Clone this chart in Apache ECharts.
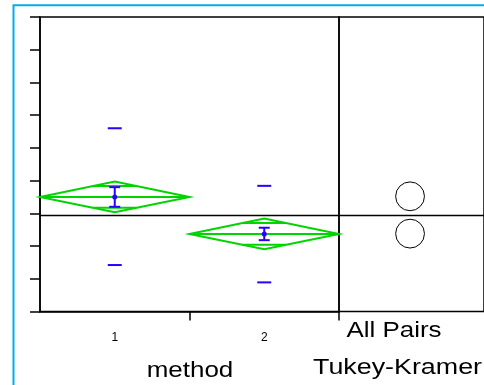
<!DOCTYPE html>
<html><head><meta charset="utf-8">
<script src="https://cdn.jsdelivr.net/npm/echarts@6/dist/echarts.min.js"></script>
<style>html,body{margin:0;padding:0;background:#fff}#c{width:484px;height:385px}</style>
</head><body><div id="c"></div>
<script>
// ---- data ----
const groups = ['1', '2'];
const groupX = [0.5, 1.5];
const means = [3.50, 2.37];
const ciHalf = [0.47, 0.47];
const sdUpper = [5.60, 3.84];
const sdLower = [1.42, 0.89];
const errUpper = [3.80, 2.56];
const errLower = [3.20, 2.18];
const grandMean = 2.93;
const circleY = [3.52, 2.38];
const circleR = [0.44, 0.44];
const circleX = 0.49;
const yMin = 0, yMax = 9, yStep = 1;
const xAxisTitle = 'method';
const panelTitle1 = 'All Pairs';
const panelTitle2 = 'Tukey-Kramer';

const GREEN = '#00D400';
const BLUE = '#2A00FF';
const FONT = 'Liberation Sans, Arial, sans-serif';

const chart = echarts.init(document.getElementById('c'), null, {renderer: 'canvas'});

const diamondData = groups.map((g, i) => [groupX[i], means[i], ciHalf[i]]);
const errData = groups.map((g, i) => [groupX[i], means[i], errLower[i], errUpper[i]]);
const sdData = groups.map((g, i) => [groupX[i], sdLower[i], sdUpper[i]]);
const circleData = groups.map((g, i) => [circleX, circleY[i], circleR[i]]);

const lineStyleBlack = {color: '#000', width: 1.5};

chart.setOption({
  animation: false,
  backgroundColor: '#fff',
  grid: [
    {left: 40, top: 17, width: 299, height: 294.5, show: true, borderColor: '#000', borderWidth: 1.5, containLabel: false},
    {left: 339, top: 17, width: 146, height: 294.5, show: true, borderColor: '#000', borderWidth: 1.5, containLabel: false}
  ],
  xAxis: [
    {type: 'value', gridIndex: 0, min: 0, max: 2, interval: 1,
     axisLine: {show: true, onZero: false, lineStyle: lineStyleBlack},
     axisTick: {show: true, length: 9, lineStyle: lineStyleBlack, customValues: [1, 2]},
     axisLabel: {show: true, customValues: groupX, margin: 20, fontSize: 12, color: '#000', fontFamily: FONT,
       formatter: v => { const i = groupX.indexOf(v); return i >= 0 ? groups[i] : ''; }},
     splitLine: {show: false}},
    {type: 'value', gridIndex: 1, min: 0, max: 1,
     axisLine: {show: false}, axisTick: {show: false}, axisLabel: {show: false}, splitLine: {show: false}}
  ],
  yAxis: [
    {type: 'value', gridIndex: 0, min: yMin, max: yMax, interval: yStep,
     axisLine: {show: true, onZero: false, lineStyle: lineStyleBlack},
     axisTick: {show: true, length: 10, lineStyle: lineStyleBlack},
     axisLabel: {show: false}, splitLine: {show: false}},
    {type: 'value', gridIndex: 1, min: yMin, max: yMax, interval: yStep,
     axisLine: {show: false}, axisTick: {show: false}, axisLabel: {show: false}, splitLine: {show: false}}
  ],
  series: [
    {type: 'line', xAxisIndex: 0, yAxisIndex: 0, data: [[0, grandMean], [2, grandMean]],
     symbol: 'none', lineStyle: {color: '#000', width: 1.5}, z: 3, silent: true},
    {type: 'line', xAxisIndex: 1, yAxisIndex: 1, data: [[0, grandMean], [1, grandMean]],
     symbol: 'none', lineStyle: {color: '#000', width: 1.5}, z: 3, silent: true},
    {type: 'custom', xAxisIndex: 0, yAxisIndex: 0, data: diamondData, z: 4,
     renderItem: (params, api) => {
       const x = api.value(0), m = api.value(1), c = api.value(2);
       const L = api.coord([x - 0.5, m]), R = api.coord([x + 0.5, m]);
       const T = api.coord([x, m + c]), B = api.coord([x, m - c]);
       const k = c * Math.SQRT1_2;
       const hw = 0.5 * (1 - Math.SQRT1_2);
       const o1a = api.coord([x - hw, m + k]), o1b = api.coord([x + hw, m + k]);
       const o2a = api.coord([x - hw, m - k]), o2b = api.coord([x + hw, m - k]);
       const st = {stroke: GREEN, lineWidth: 2, fill: null};
       return {type: 'group', children: [
         {type: 'polygon', shape: {points: [L, T, R, B]}, style: st},
         {type: 'line', shape: {x1: L[0], y1: L[1], x2: R[0], y2: R[1]}, style: st},
         {type: 'line', shape: {x1: o1a[0], y1: o1a[1], x2: o1b[0], y2: o1b[1]}, style: st},
         {type: 'line', shape: {x1: o2a[0], y1: o2a[1], x2: o2b[0], y2: o2b[1]}, style: st}
       ]};
     }},
    {type: 'custom', xAxisIndex: 0, yAxisIndex: 0, data: errData, z: 5,
     renderItem: (params, api) => {
       const x = api.value(0);
       const M = api.coord([x, api.value(1)]);
       const lo = api.coord([x, api.value(2)]), hi = api.coord([x, api.value(3)]);
       const cw = 5.5;
       const st = {stroke: BLUE, lineWidth: 2, fill: null};
       return {type: 'group', children: [
         {type: 'line', shape: {x1: lo[0], y1: lo[1], x2: hi[0], y2: hi[1]}, style: st},
         {type: 'line', shape: {x1: lo[0] - cw, y1: lo[1], x2: lo[0] + cw, y2: lo[1]}, style: st},
         {type: 'line', shape: {x1: hi[0] - cw, y1: hi[1], x2: hi[0] + cw, y2: hi[1]}, style: st},
         {type: 'circle', shape: {cx: M[0], cy: M[1], r: 2.5}, style: {fill: BLUE}}
       ]};
     }},
    {type: 'custom', xAxisIndex: 0, yAxisIndex: 0, data: sdData, z: 5,
     renderItem: (params, api) => {
       const x = api.value(0);
       const lo = api.coord([x, api.value(1)]), hi = api.coord([x, api.value(2)]);
       const w = 7;
       const st = {stroke: BLUE, lineWidth: 2};
       return {type: 'group', children: [
         {type: 'line', shape: {x1: lo[0] - w, y1: lo[1], x2: lo[0] + w, y2: lo[1]}, style: st},
         {type: 'line', shape: {x1: hi[0] - w, y1: hi[1], x2: hi[0] + w, y2: hi[1]}, style: st}
       ]};
     }},
    {type: 'custom', xAxisIndex: 1, yAxisIndex: 1, data: circleData, z: 5,
     renderItem: (params, api) => {
       const C = api.coord([api.value(0), api.value(1)]);
       const r = api.size([0, api.value(2)])[1];
       return {type: 'circle', shape: {cx: C[0], cy: C[1], r: r}, style: {stroke: '#000', lineWidth: 1, fill: null}};
     }}
  ],
  graphic: [
    {type: 'rect', shape: {x: 13.5, y: 5.3, width: 600, height: 600}, style: {stroke: '#00AEEF', lineWidth: 2, fill: null}, z: 100, silent: true},
    {type: 'text', x: 190, y: 370.5, scaleX: 1.18, style: {text: xAxisTitle, font: '22px ' + FONT, fill: '#000', textAlign: 'center', textVerticalAlign: 'middle'}, z: 100},
    {type: 'text', x: 394, y: 330.5, scaleX: 1.18, style: {text: panelTitle1, font: '22px ' + FONT, fill: '#000', textAlign: 'center', textVerticalAlign: 'middle'}, z: 100},
    {type: 'text', x: 313, y: 367.5, scaleX: 1.22, style: {text: panelTitle2, font: '22px ' + FONT, fill: '#000', textAlign: 'left', textVerticalAlign: 'middle'}, z: 100}
  ]
});
</script>
</body></html>
